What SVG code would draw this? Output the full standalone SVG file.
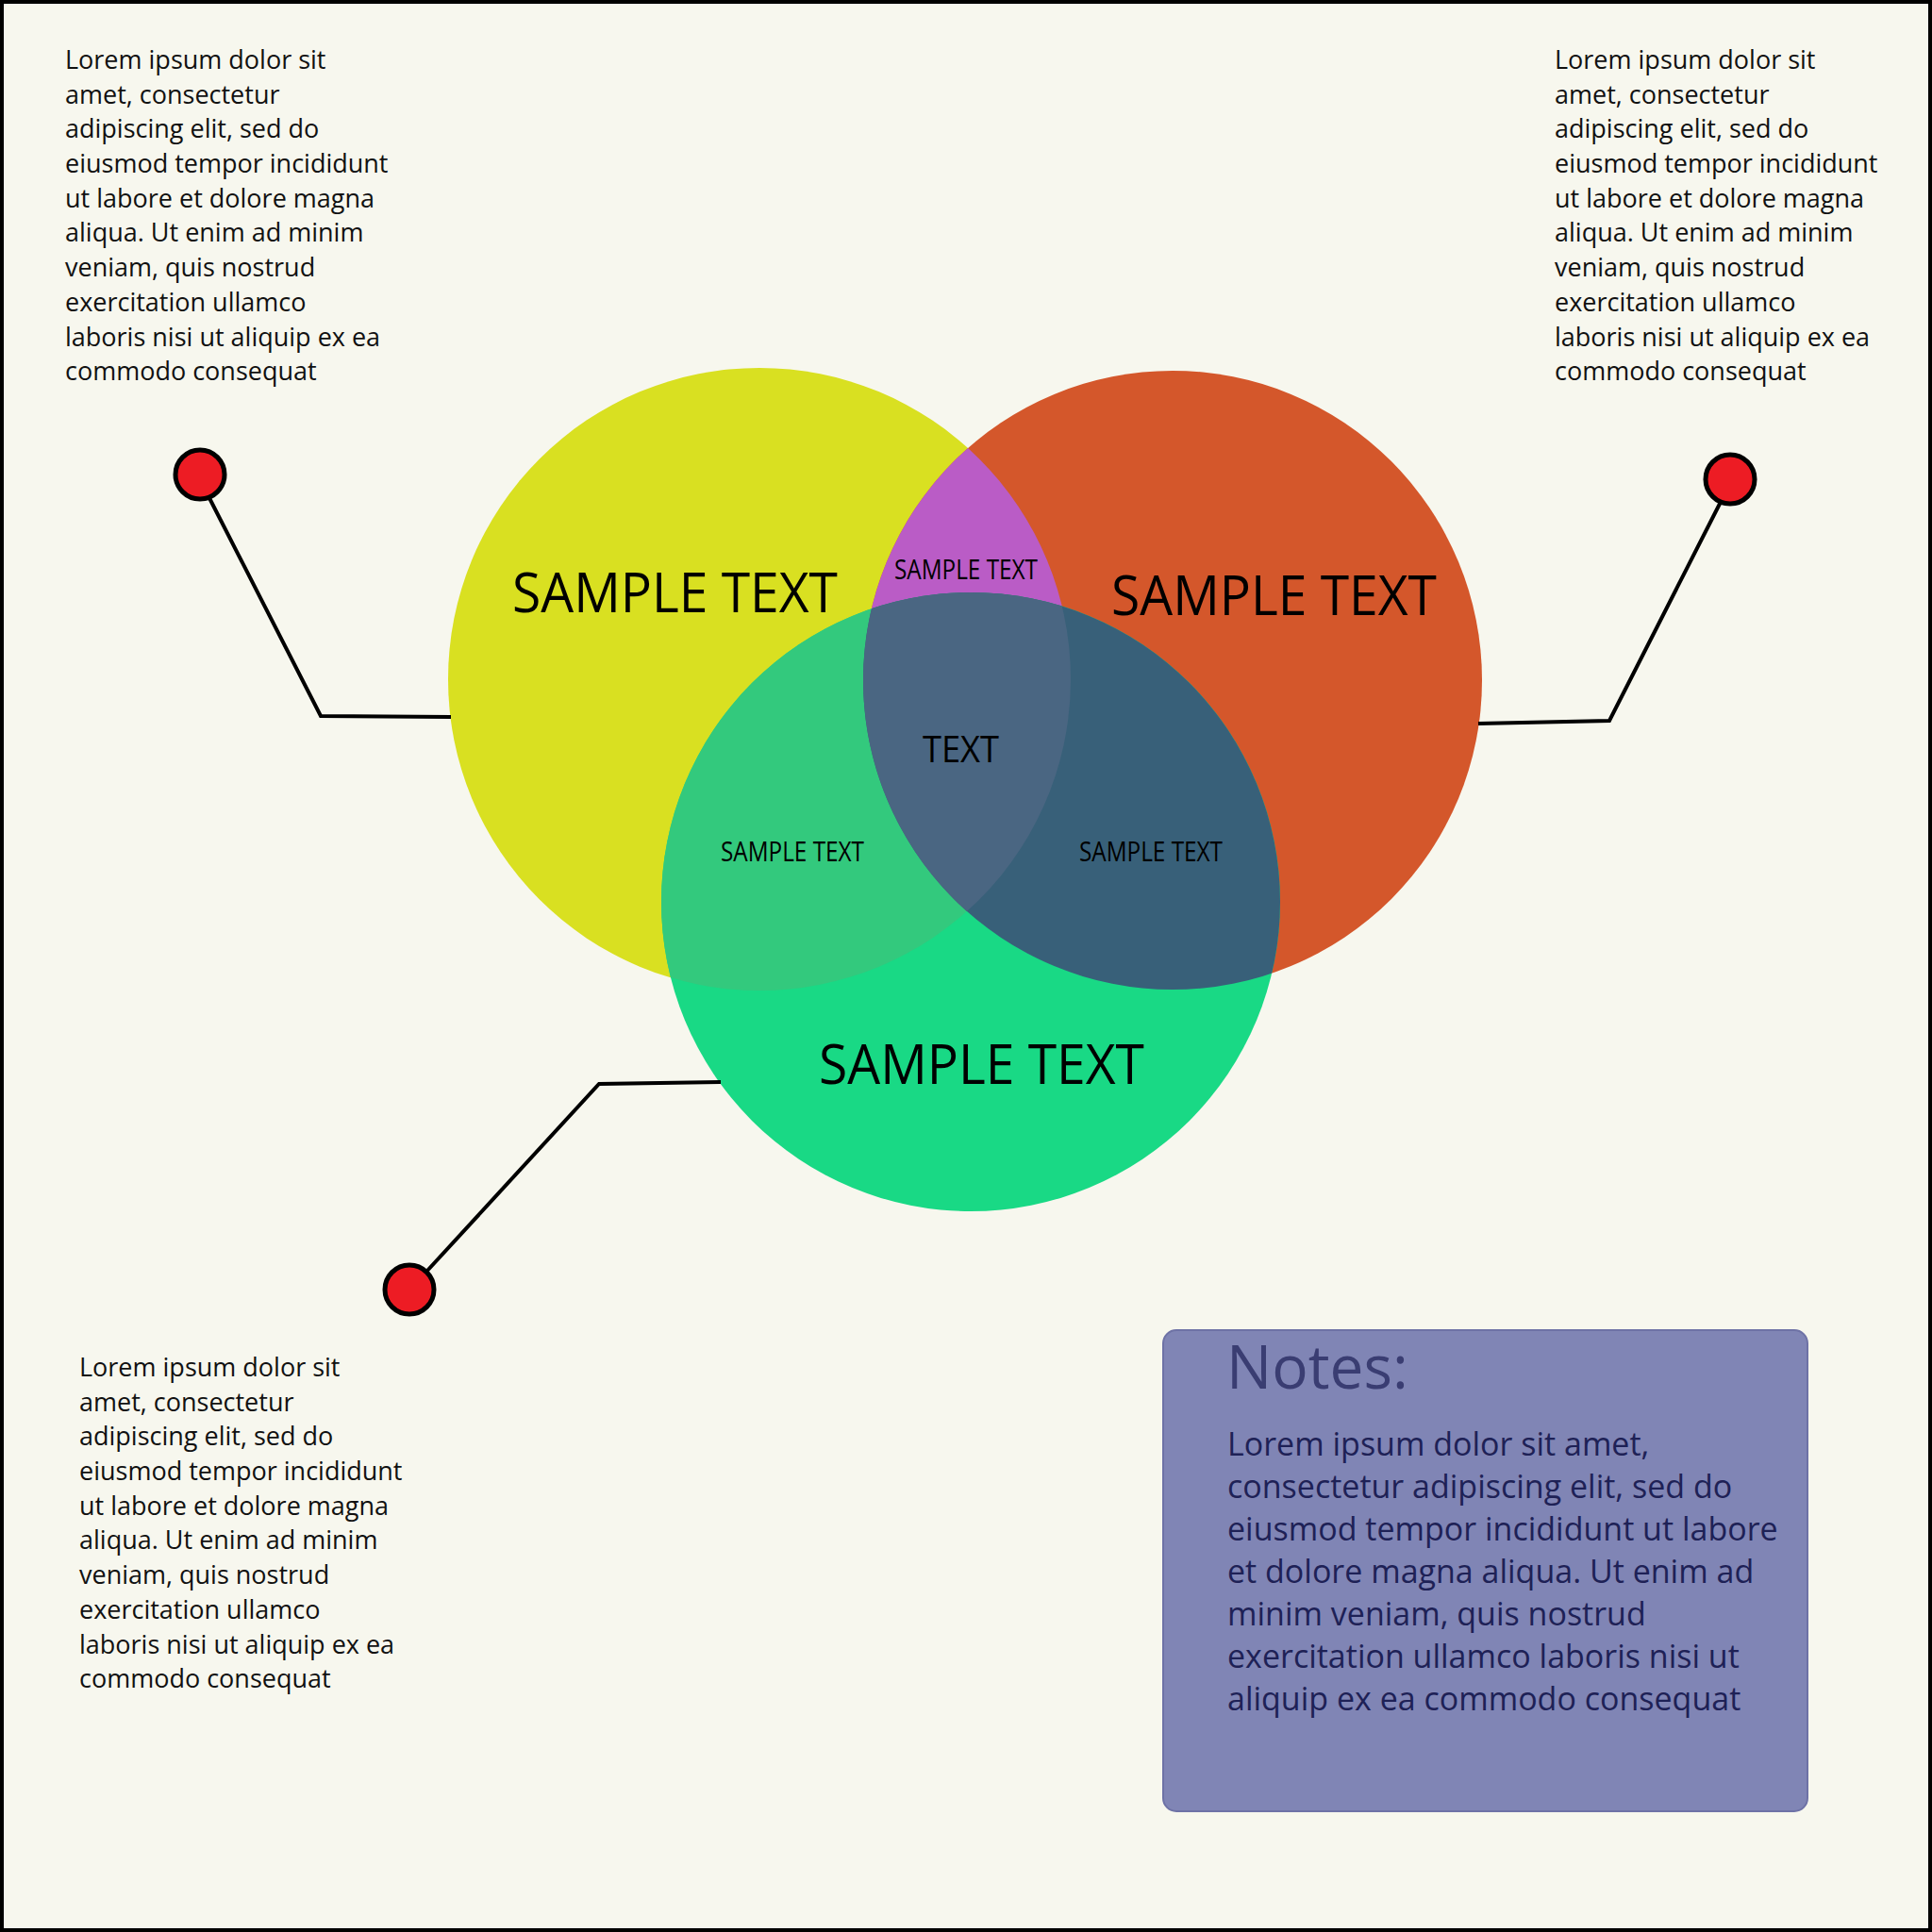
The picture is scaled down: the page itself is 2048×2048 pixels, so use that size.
<svg xmlns="http://www.w3.org/2000/svg" width="2048" height="2048" viewBox="0 0 2048 2048">
<style>
.p{font-family:"Open Sans","Liberation Sans",sans-serif;font-size:27px;fill:#111}
.big{font-family:"Open Sans","Liberation Sans",sans-serif;font-size:58px;fill:#000}
.sm{font-family:"Open Sans","Liberation Sans",sans-serif;font-size:30px;fill:#000}
.ln{fill:none;stroke:#000;stroke-width:4}
.dot{fill:#ED1C24;stroke:#000;stroke-width:5}
.n{font-family:"Open Sans","Liberation Sans",sans-serif;font-size:34px;fill:#1E2156}
</style>
<defs>
<clipPath id="cy"><circle cx="805" cy="720" r="330"/></clipPath>
<clipPath id="cr"><circle cx="1243" cy="721" r="328"/></clipPath>
<clipPath id="cyr" clip-path="url(#cy)"><circle cx="1243" cy="721" r="328"/></clipPath>
</defs>
<rect x="2" y="2" width="2044" height="2044" fill="#F7F7EE" stroke="#000" stroke-width="4"/>
<g id="venn">
<circle cx="805" cy="720" r="330" fill="#D9E021"/>
<circle cx="1243" cy="721" r="328" fill="#D4572B"/>
<circle cx="1029" cy="956" r="328" fill="#19D985"/>
<circle cx="1243" cy="721" r="328" fill="#BA5CC6" clip-path="url(#cy)"/>
<circle cx="1029" cy="956" r="328" fill="#33C97D" clip-path="url(#cy)"/>
<circle cx="1029" cy="956" r="328" fill="#386079" clip-path="url(#cr)"/>
<circle cx="1029" cy="956" r="328" fill="#4A6682" clip-path="url(#cyr)"/>
</g>
<g id="labels">
<text class="big" x="543" y="649" textLength="345" lengthAdjust="spacingAndGlyphs">SAMPLE TEXT</text>
<text class="big" x="1178" y="652" textLength="345" lengthAdjust="spacingAndGlyphs">SAMPLE TEXT</text>
<text class="big" x="868" y="1149" textLength="345" lengthAdjust="spacingAndGlyphs">SAMPLE TEXT</text>
<text class="sm" x="948" y="614" textLength="152" lengthAdjust="spacingAndGlyphs">SAMPLE TEXT</text>
<text class="sm" x="764" y="913" textLength="152" lengthAdjust="spacingAndGlyphs">SAMPLE TEXT</text>
<text class="sm" x="1144" y="913" textLength="152" lengthAdjust="spacingAndGlyphs">SAMPLE TEXT</text>
<text class="big" style="font-size:38px" x="978" y="808" textLength="81" lengthAdjust="spacingAndGlyphs">TEXT</text>
</g>
<g id="connectors">
<polyline class="ln" points="478,760 340,759 222,528"/>
<polyline class="ln" points="1567,767 1706,764 1824,532"/>
<polyline class="ln" points="764,1147 635,1149 452,1348"/>
</g>
<g id="dots">
<circle class="dot" cx="212" cy="503" r="26"/>
<circle class="dot" cx="1834" cy="508" r="26"/>
<circle class="dot" cx="434" cy="1367" r="26"/>
</g>
<g id="text-tl" class="p">
<text x="69" y="73">Lorem ipsum dolor sit</text>
<text x="69" y="110">amet, consectetur</text>
<text x="69" y="146">adipiscing elit, sed do</text>
<text x="69" y="183">eiusmod tempor incididunt</text>
<text x="69" y="220">ut labore et dolore magna</text>
<text x="69" y="256">aliqua. Ut enim ad minim</text>
<text x="69" y="293">veniam, quis nostrud</text>
<text x="69" y="330">exercitation ullamco</text>
<text x="69" y="367">laboris nisi ut aliquip ex ea</text>
<text x="69" y="403">commodo consequat</text>
</g>
<g id="text-tr" class="p">
<text x="1648" y="73">Lorem ipsum dolor sit</text>
<text x="1648" y="110">amet, consectetur</text>
<text x="1648" y="146">adipiscing elit, sed do</text>
<text x="1648" y="183">eiusmod tempor incididunt</text>
<text x="1648" y="220">ut labore et dolore magna</text>
<text x="1648" y="256">aliqua. Ut enim ad minim</text>
<text x="1648" y="293">veniam, quis nostrud</text>
<text x="1648" y="330">exercitation ullamco</text>
<text x="1648" y="367">laboris nisi ut aliquip ex ea</text>
<text x="1648" y="403">commodo consequat</text>
</g>
<g id="text-bl" class="p">
<text x="84" y="1459">Lorem ipsum dolor sit</text>
<text x="84" y="1496">amet, consectetur</text>
<text x="84" y="1532">adipiscing elit, sed do</text>
<text x="84" y="1569">eiusmod tempor incididunt</text>
<text x="84" y="1606">ut labore et dolore magna</text>
<text x="84" y="1642">aliqua. Ut enim ad minim</text>
<text x="84" y="1679">veniam, quis nostrud</text>
<text x="84" y="1716">exercitation ullamco</text>
<text x="84" y="1753">laboris nisi ut aliquip ex ea</text>
<text x="84" y="1789">commodo consequat</text>
</g>
<g id="notes">
<rect x="1233" y="1410" width="683" height="510" rx="14" fill="#8085B5" stroke="#6E72A6" stroke-width="2"/>
<text x="1300" y="1472" style="font-family:'Open Sans','Liberation Sans',sans-serif;font-size:64px;fill:#3A3D72">Notes:</text>
<text class="n" x="1301" y="1543">Lorem ipsum dolor sit amet,</text>
<text class="n" x="1301" y="1588">consectetur adipiscing elit, sed do</text>
<text class="n" x="1301" y="1633">eiusmod tempor incididunt ut labore</text>
<text class="n" x="1301" y="1678">et dolore magna aliqua. Ut enim ad</text>
<text class="n" x="1301" y="1723">minim veniam, quis nostrud</text>
<text class="n" x="1301" y="1768">exercitation ullamco laboris nisi ut</text>
<text class="n" x="1301" y="1813">aliquip ex ea commodo consequat</text>
</g>
</svg>
